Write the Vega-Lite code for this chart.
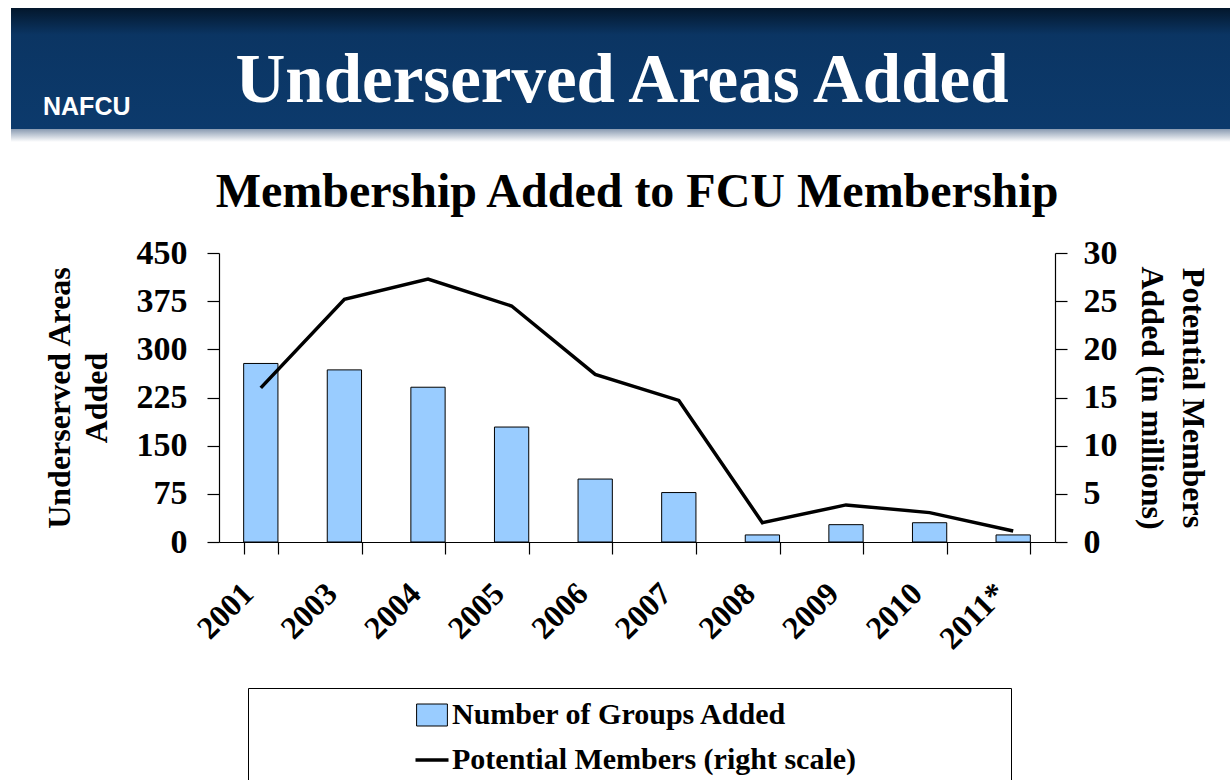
{
  "$schema": "https://vega.github.io/schema/vega-lite/v6.json",
  "padding": {"top": 8, "left": 11, "right": 0, "bottom": 0},
  "background": "white",
  "spacing": 111,
  "center": true,
  "bounds": "flush",
  "config": {
    "view": {"stroke": null},
    "font": "Liberation Serif",
    "axis": {
      "domainColor": "black", "tickColor": "black", "labelColor": "black", "titleColor": "black",
      "labelFont": "Liberation Serif", "titleFont": "Liberation Serif",
      "labelFontWeight": "bold", "titleFontWeight": "bold",
      "grid": false, "domainWidth": 1.2, "tickWidth": 1.2
    }
  },
  "vconcat": [
    {
      "width": 1252,
      "height": 134,
      "data": {"values": [{"t": "Underserved Areas Added"}]},
      "title": {
        "text": "NAFCU", "orient": "bottom", "anchor": "start", "offset": -47, "dx": 32,
        "font": "Liberation Sans", "fontSize": 25, "fontWeight": "bold", "color": "white"
      },
      "layer": [
        {
          "mark": {
            "type": "rect",
            "color": {
              "gradient": "linear", "x1": 0, "y1": 0, "x2": 0, "y2": 1,
              "stops": [
                {"offset": 0, "color": "#03172c"},
                {"offset": 0.2, "color": "#0b3563"},
                {"offset": 0.9, "color": "#0c3a6c"},
                {"offset": 0.905, "color": "#8c9db3"},
                {"offset": 1, "color": "#ffffff"}
              ]
            }
          },
          "encoding": {}
        },
        {
          "mark": {
            "type": "text", "font": "Liberation Serif", "fontWeight": "bold", "fontSize": 69,
            "color": "white", "baseline": "middle", "dy": 6, "dx": -15
          },
          "encoding": {"text": {"field": "t"}}
        }
      ]
    },
    {
      "width": 836,
      "height": 289,
      "title": {
        "text": "Membership Added to FCU Membership", "anchor": "middle", "offset": 19,
        "font": "Liberation Serif", "fontSize": 48, "fontWeight": "bold", "color": "black"
      },
      "data": {
        "values": [
          {"year": "2001", "groups": 278, "members": 16.0},
          {"year": "2003", "groups": 268, "members": 25.2},
          {"year": "2004", "groups": 241, "members": 27.3},
          {"year": "2005", "groups": 179, "members": 24.5},
          {"year": "2006", "groups": 98, "members": 17.4},
          {"year": "2007", "groups": 77, "members": 14.7},
          {"year": "2008", "groups": 11, "members": 2.0},
          {"year": "2009", "groups": 27, "members": 3.85},
          {"year": "2010", "groups": 30, "members": 3.05},
          {"year": "2011*", "groups": 11, "members": 1.15}
        ]
      },
      "encoding": {
        "x": {
          "field": "year", "type": "ordinal", "sort": null,
          "scale": {"paddingInner": 0.59, "paddingOuter": 0.295},
          "axis": {
            "title": null, "labelAngle": -45, "tickBand": "extent", "tickSize": 12,
            "labelPadding": 34, "labelOffset": -13, "labelFontSize": 32, "labelAlign": "right", "labelBaseline": "middle"
          }
        }
      },
      "layer": [
        {
          "mark": {"type": "bar", "stroke": "black", "strokeWidth": 1},
          "encoding": {
            "y": {
              "field": "groups", "type": "quantitative",
              "scale": {"domain": [0, 450], "nice": false},
              "axis": {
                "orient": "left", "values": [0, 75, 150, 225, 300, 375, 450],
                "title": ["Underserved Areas", "Added"], "tickSize": 12, "labelPadding": 20,
                "labelFontSize": 34, "titleFontSize": 32, "titleLineHeight": 37, "titlePadding": 23
              }
            },
            "color": {
              "datum": "Number of Groups Added", "type": "nominal",
              "scale": {
                "domain": ["Number of Groups Added", "Potential Members (right scale)"],
                "range": ["#99ccff", "#000000"]
              },
              "legend": {
                "title": "\u00a0", "titleOrient": "right", "titlePadding": 143, "titleFontSize": 30,
                "orient": "none", "legendX": 29, "legendY": 435, "direction": "vertical",
                "fillColor": "white", "strokeColor": "black", "padding": 12,
                "symbolOffset": 157, "labelOffset": 5, "rowPadding": 15,
                "labelFont": "Liberation Serif", "labelFontSize": 30, "labelFontWeight": "bold",
                "labelColor": "black", "labelLimit": 0, "symbolSize": 484,
                "symbolType": {"expr": "datum.value === 'Number of Groups Added' ? 'M-1.4,-1H1.4V1H-1.4Z' : 'M-1.5,0H1.5'"},
                "symbolStrokeWidth": {"expr": "datum.value === 'Number of Groups Added' ? 1 : 3.5"},
                "encode": {
                  "symbols": {
                    "stroke": {"value": "#000000"},
                    "opacity": {"value": 1}
                  }
                }
              }
            }
          }
        },
        {
          "mark": {"type": "line", "strokeWidth": 3.5},
          "encoding": {
            "y": {
              "field": "members", "type": "quantitative",
              "scale": {"domain": [0, 30], "nice": false},
              "axis": {
                "orient": "right", "values": [0, 5, 10, 15, 20, 25, 30],
                "title": ["Potential Members", "Added (in millions)"], "tickSize": 12, "labelPadding": 16,
                "labelFontSize": 34, "titleFontSize": 32, "titleLineHeight": 41, "titlePadding": 17
              }
            },
            "color": {"datum": "Potential Members (right scale)", "type": "nominal", "legend": null}
          }
        }
      ],
      "resolve": {"scale": {"y": "independent"}, "legend": {"color": "independent"}}
    }
  ]
}
